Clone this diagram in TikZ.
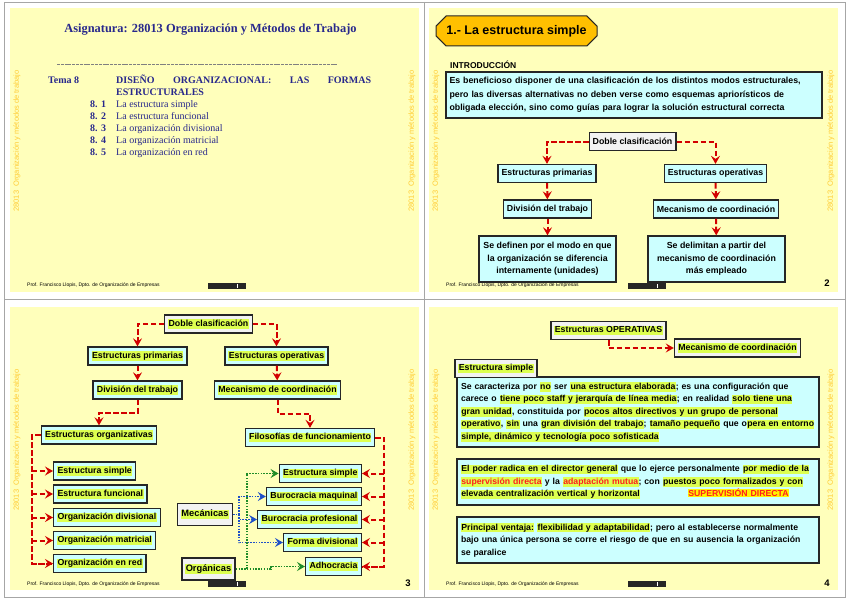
\documentclass[tikz,border=0pt]{standalone}
\usepackage{fontspec}
\setmainfont{Liberation Serif}
\setsansfont{Liberation Sans}
\usetikzlibrary{arrows.meta,shapes.misc}
\definecolor{slideyellow}{RGB}{255,255,187}
\definecolor{sidegold}{RGB}{255,204,51}
\definecolor{navy}{RGB}{40,40,140}
\definecolor{boxcyan}{RGB}{204,255,255}
\definecolor{boxgray}{RGB}{242,242,242}
\definecolor{hilite}{RGB}{221,255,80}
\definecolor{tagorange}{RGB}{255,192,0}
\definecolor{arrowred}{RGB}{210,0,0}
\definecolor{dotblue}{RGB}{30,80,200}
\definecolor{dotgreen}{RGB}{30,140,40}
\definecolor{txtred}{RGB}{255,30,30}
\newcommand{\hlt}[1]{{\fboxsep=0.4pt\colorbox{hilite}{\rule[-2pt]{0pt}{8.5pt}#1}}}
\newcommand{\jline}[1]{\makebox[\linewidth][s]{#1}}
\newcommand{\boxfont}{\sffamily\bfseries\fontsize{8.8}{12.5}\selectfont}
\newcommand{\sidetxt}{28013\ \ Organización y métodos de trabajo}
\newcommand{\footprof}{Prof. Francisco Llopis, Dpto. de Organización de Empresas}
\tikzset{
  box/.style={draw=black!85, line width=1.3pt, fill=boxcyan, font=\boxfont, inner xsep=3.5pt, inner ysep=1pt, minimum height=18pt},
  grbox/.style={box, fill=boxgray},
  bigbox/.style={box, text width=354pt, inner xsep=4pt, align=left, font=\sffamily\bfseries\fontsize{8.7}{12.5}\selectfont},
  tip/.style={-{Stealth[length=8pt,width=9pt,inset=3pt]}},
  reddash/.style={draw=arrowred, line width=2pt, dash pattern=on 5.5pt off 2.5pt},
  redarr/.style={reddash, tip},
  bluedot/.style={draw=dotblue, line width=1.6pt, dash pattern=on 1.5pt off 1.3pt},
  bluearr/.style={bluedot, tip},
  greenarr/.style={draw=dotgreen, line width=1.6pt, dash pattern=on 1.5pt off 1.3pt, tip},
  slide/.style={fill=slideyellow, draw=none},
  side/.style={rotate=90, anchor=east, text=sidegold, inner sep=0pt, font=\sffamily\fontsize{7.5}{9}\selectfont},
  foot/.style={anchor=west, inner sep=0pt, font=\sffamily\fontsize{5}{6}\selectfont},
  pagenum/.style={font=\sffamily\bfseries\fontsize{9.5}{11}\selectfont},
  navytxt/.style={anchor=base west, inner sep=0pt, text=navy, font=\rmfamily\fontsize{10}{12}\selectfont}
}
\begin{document}
\begin{tikzpicture}[x=1pt,y=-1pt]
\useasboundingbox (0,0) rectangle (848,599);
% handout frame
\draw[gray!70, line width=0.8pt] (4,2) rectangle (845,597) (424,2) -- (424,597) (4,299) -- (845,299);
\fill[slide] (10,8) rectangle (419,292);
\fill[slide] (429,8) rectangle (838,292);
\fill[slide] (10,307) rectangle (419,590);
\fill[slide] (429,307) rectangle (838,590);
\foreach \x/\y in {17/70,412/70,436/70,831/70,17/369,412/369,436/369,831/369}
  \node[side] at (\x,\y) {\sidetxt};
\foreach \x/\y in {27/285,446/285,27/584,446/584}
  \node[foot] at (\x,\y) {\footprof};
\foreach \x/\y in {208/283,628/283,208/581,628/581}{
  \fill[black!85] (\x,\y) rectangle ++(38,6);
  \fill[white] (\x+29,\y+1) rectangle ++(1,4);
}

% slide 1
\node[text=navy, font=\rmfamily\bfseries\fontsize{12.4}{14}\selectfont] (tit1) at (210.5,30) {Asignatura: 28013 Organización y Métodos de Trabajo};
\draw[gray, line width=0.4pt, dash pattern=on 3pt off 0.8pt] (57,64.5) -- (338,64.5);
\node[navytxt, font=\rmfamily\bfseries\fontsize{10}{12}\selectfont] (tema) at (48,84) {Tema 8};
\node[navytxt, font=\rmfamily\bfseries\fontsize{10}{12}\selectfont] (dis) at (116,84) {\makebox[255pt][s]{DISEÑO ORGANIZACIONAL: LAS FORMAS}};
\node[navytxt, font=\rmfamily\bfseries\fontsize{10}{12}\selectfont] (estr) at (116,96) {ESTRUCTURALES};
\foreach \n/\t [count=\i from 0] in {1/La estructura simple,2/La estructura funcional,3/La organización divisional,4/La organización matricial,5/La organización en red}{
  \node[navytxt, font=\rmfamily\bfseries\fontsize{10}{12}\selectfont] (n\n) at (90,107.5+11.9*\i) {8. \n};
  \node[navytxt] (t\n) at (116,107.5+11.9*\i) {\t};
}

% slide 2
\node[chamfered rectangle, chamfered rectangle xsep=7pt, draw=black!85, line width=1pt, fill=tagorange, minimum width=159pt, minimum height=30pt, font=\sffamily\bfseries\fontsize{12.5}{14}\selectfont] (tag2) at (516.5,31) {1.- La estructura simple};
\node[anchor=base west, inner sep=0pt, font=\sffamily\bfseries\fontsize{8.5}{10}\selectfont] (intro2) at (450,68.5) {INTRODUCCIÓN};
\node[box, text width=369pt, align=left, minimum height=46pt, font=\sffamily\bfseries\fontsize{8.8}{13.5}\selectfont] (es2) at (634,95) {\jline{Es beneficioso disponer de una clasificación de los distintos modos estructurales,}\\
\jline{pero las diversas alternativas no deben verse como esquemas apriorísticos de}\\
obligada elección, sino como guías para lograr la solución estructural correcta};
\node[grbox] (dc2) at (632.5,141.5) {Doble clasificación};
\node[box] (ep2) at (547,173.5) {Estructuras primarias};
\node[box] (eo2) at (715.5,173.5) {Estructuras operativas};
\node[box] (dt2) at (547.5,209) {División del trabajo};
\node[box] (mc2) at (716,209) {Mecanismo de coordinación};
\node[box, align=center, minimum width=137pt, minimum height=46pt] (sd2) at (547.5,259) {Se definen por el modo en que\\la organización se diferencia\\internamente (unidades)};
\node[box, align=center, minimum width=137pt, minimum height=46pt] (sm2) at (716.5,259) {Se delimitan a partir del\\mecanismo de coordinación\\más empleado};
\draw[redarr] (dc2.west) -| (ep2.north);
\draw[redarr] (dc2.east) -| (eo2.north);
\draw[redarr] (ep2) -- (dt2);
\draw[redarr] (eo2) -- (mc2);
\draw[redarr] (dt2) -- (sd2);
\draw[redarr] (mc2) -- (sm2);
\node[pagenum] (p2) at (827,283) {2};

% slide 3
\node[grbox] (dc3) at (208.5,324) {\hlt{Doble clasificación}};
\node[box] (ep3) at (137.5,356) {\hlt{Estructuras primarias}};
\node[box] (eo3) at (276.5,356) {\hlt{Estructuras operativas}};
\node[box] (dt3) at (137.5,390) {\hlt{División del trabajo}};
\node[box] (mc3) at (277.5,390) {\hlt{Mecanismo de coordinación}};
\node[box] (eorg) at (99,435) {\hlt{Estructuras organizativas}};
\node[box] (fil3) at (310,437.5) {\hlt{Filosofías de funcionamiento}};
\node[box, anchor=west] (os1) at (53,471) {\hlt{Estructura simple}};
\node[box, anchor=west] (os2) at (53,494) {\hlt{Estructura funcional}};
\node[box, anchor=west] (os3) at (53,517.5) {\hlt{Organización divisional}};
\node[box, anchor=west] (os4) at (53,540.5) {\hlt{Organización matricial}};
\node[box, anchor=west] (os5) at (53,563.5) {\hlt{Organización en red}};
\node[box, anchor=east] (fs1) at (362,473.5) {\hlt{Estructura simple}};
\node[box, anchor=east] (fs2) at (362,496.5) {\hlt{Burocracia maquinal}};
\node[box, anchor=east] (fs3) at (362,519.5) {\hlt{Burocracia profesional}};
\node[box, anchor=east] (fs4) at (362,542.5) {\hlt{Forma divisional}};
\node[box, anchor=east] (fs5) at (362,566.5) {\hlt{Adhocracia}};
\node[grbox, minimum height=22pt, font=\sffamily\bfseries\fontsize{9.3}{11}\selectfont] (mec) at (205,514.5) {\hlt{Mecánicas}};
\node[grbox, minimum height=22pt, font=\sffamily\bfseries\fontsize{9.3}{11}\selectfont] (org) at (208.5,569) {\hlt{Orgánicas}};
\draw[redarr] (dc3.west) -| (ep3.north);
\draw[redarr] (dc3.east) -| (eo3.north);
\draw[redarr] (ep3) -- (dt3);
\draw[redarr] (eo3) -- (mc3);
\draw[redarr] (dt3.south) -- ++(0,13) -| (eorg.north);
\draw[redarr] (mc3.south) -- ++(0,14) -| (fil3.north);
\draw[reddash] (eorg.west) -- ++(-9,0) coordinate (lt) |- (os5.west);
\foreach \b in {os1,os2,os3,os4,os5}
  \draw[redarr] (lt |- \b.west) -- (\b.west);
\draw[reddash] (fil3.east) -- ++(9,0) coordinate (rt) |- (fs5.east);
\foreach \b in {fs1,fs2,fs3,fs4,fs5}
  \draw[redarr] (rt |- \b.east) -- (\b.east);
\draw[bluedot] (mec.east) -- ++(6,0) coordinate (bt);
\foreach \b in {fs2,fs3,fs4}
  \draw[bluearr] (bt) |- (\b.west);
\draw[greenarr] (org.east) -- ++(11,0) |- (fs1.west);
\draw[greenarr] (org.east) -- ++(35,0) |- (fs5.west);
\node[pagenum] (p3) at (408,583) {3};

% slide 4
\node[grbox] (op4) at (608.5,330.5) {\hlt{Estructuras OPERATIVAS}};
\node[grbox] (mc4) at (737.5,348) {\hlt{Mecanismo de coordinación}};
\draw[redarr] (op4.south) |- (mc4.west);
\node[bigbox, minimum height=70pt] (bx1) at (638,412) {\jline{Se caracteriza por \hlt{no} ser \hlt{una estructura elaborada}; es una configuración que}\\
\jline{carece o \hlt{tiene poco staff y jerarquía de línea media}; en realidad \hlt{solo tiene una}}\\
\jline{\hlt{gran unidad}, constituida por \hlt{pocos altos directivos y un grupo de personal}}\\
\jline{\hlt{operativo}, \hlt{sin} una \hlt{gran división del trabajo}; \hlt{tamaño pequeño} que o\hlt{pera en entorno}}\\
\hlt{simple, dinámico y tecnología poco sofisticada}};
\node[grbox] (es4) at (496,368.5) {\hlt{Estructura simple}};
\node[bigbox, minimum height=46pt] (bx2) at (638,482) {\jline{\hlt{El poder radica en el director general} que lo ejerce personalmente \hlt{por medio de la}}\\
\jline{\hlt{\textcolor{txtred}{supervisión directa}} y la \hlt{\textcolor{txtred}{adaptación mutua}}; con \hlt{puestos poco formalizados y con}}\\
\makebox[227pt][l]{\hlt{elevada centralización vertical y horizontal}}{\fboxsep=0.4pt\colorbox{yellow}{\textcolor{txtred}{SUPERVISIÓN DIRECTA}}}};
\node[bigbox, minimum height=46pt] (bx3) at (638,540) {\jline{\hlt{Principal ventaja:} \hlt{flexibilidad y adaptabilidad}; pero al establecerse normalmente}\\
\jline{bajo una única persona se corre el riesgo de que en su ausencia la organización}\\
se paralice};
\node[pagenum] (p4) at (827,583) {4};
\end{tikzpicture}
\end{document}
